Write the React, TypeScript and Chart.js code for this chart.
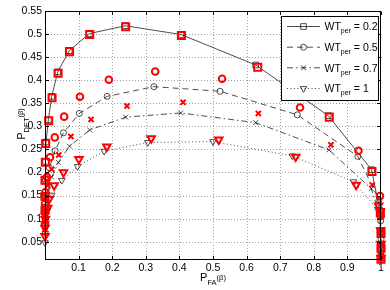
import React, { useEffect, useRef } from "react";
import { Chart, registerables } from "chart.js";

Chart.register(...registerables);

const FONT = '"Liberation Sans", Arial, Helvetica, sans-serif';
const RED = "rgb(255,0,0)";

// Axis ticks
const X_TICKS = [0, 0.1, 0.2, 0.3, 0.4, 0.5, 0.6, 0.7, 0.8, 0.9, 1];
const Y_TICKS = [0.05, 0.1, 0.15, 0.2, 0.25, 0.3, 0.35, 0.4, 0.45, 0.5, 0.55];
const WT_LABELS = ["0.2", "0.5", "0.7", "1"];

// WT_per = 0.2 (black line + squares, red squares)
const wt02X = [0.000, 0.001, 0.001, 0.002, 0.003, 0.010, 0.020, 0.038, 0.072, 0.132, 0.239, 0.405, 0.627, 0.843, 0.972, 0.996, 0.999, 1.000, 1.000];
const wt02Y = [0.120, 0.150, 0.186, 0.224, 0.266, 0.314, 0.365, 0.418, 0.464, 0.501, 0.518, 0.499, 0.433, 0.323, 0.206, 0.118, 0.072, 0.040, 0.015];
const wt02RedX = [0.000, 0.000, 0.000, 0.001, 0.002, 0.011, 0.021, 0.039, 0.073, 0.133, 0.240, 0.406, 0.633, 0.846, 0.973, 0.998, 1.000, 1.000, 1.000];
const wt02RedY = [0.118, 0.148, 0.183, 0.222, 0.263, 0.312, 0.362, 0.415, 0.462, 0.499, 0.516, 0.497, 0.428, 0.320, 0.202, 0.113, 0.068, 0.036, 0.012];

// WT_per = 0.5 (black dashed + circles, red circles)
const wt05X = [0.000, 0.000, 0.001, 0.002, 0.005, 0.013, 0.030, 0.055, 0.102, 0.185, 0.324, 0.521, 0.751, 0.931, 0.994, 0.999, 1.000, 1.000];
const wt05Y = [0.085, 0.105, 0.125, 0.150, 0.178, 0.210, 0.247, 0.286, 0.328, 0.365, 0.386, 0.376, 0.325, 0.235, 0.140, 0.095, 0.055, 0.025];
const wt05RedX = [0.000, 0.000, 0.000, 0.001, 0.006, 0.015, 0.029, 0.057, 0.104, 0.190, 0.328, 0.527, 0.759, 0.933, 0.997, 0.999, 1.000, 1.000];
const wt05RedY = [0.090, 0.113, 0.132, 0.157, 0.190, 0.233, 0.276, 0.321, 0.364, 0.401, 0.419, 0.403, 0.341, 0.247, 0.149, 0.106, 0.070, 0.035];

// WT_per = 0.7 (black dash-dot + x, red x)
const wt07X = [0.000, 0.001, 0.002, 0.004, 0.009, 0.020, 0.040, 0.073, 0.133, 0.240, 0.404, 0.627, 0.845, 0.971, 0.997, 0.999, 1.000, 1.000];
const wt07Y = [0.075, 0.095, 0.115, 0.135, 0.160, 0.190, 0.222, 0.257, 0.292, 0.320, 0.329, 0.308, 0.249, 0.165, 0.105, 0.070, 0.040, 0.018];
const wt07RedX = [0.000, 0.000, 0.001, 0.003, 0.008, 0.020, 0.041, 0.077, 0.137, 0.244, 0.411, 0.635, 0.851, 0.974, 0.998, 0.999, 1.000, 1.000];
const wt07RedY = [0.080, 0.100, 0.120, 0.142, 0.172, 0.207, 0.238, 0.278, 0.315, 0.344, 0.352, 0.328, 0.260, 0.173, 0.110, 0.075, 0.045, 0.020];

// WT_per = 1 (black dotted + triangles, red triangles)
const wt1X = [0.000, 0.001, 0.003, 0.008, 0.020, 0.050, 0.097, 0.176, 0.306, 0.500, 0.736, 0.918, 0.990, 0.998, 1.000, 1.000];
const wt1Y = [0.048, 0.068, 0.090, 0.118, 0.151, 0.183, 0.213, 0.246, 0.265, 0.267, 0.236, 0.180, 0.120, 0.075, 0.040, 0.012];
const wt1RedX = [0.000, 0.000, 0.001, 0.008, 0.013, 0.027, 0.055, 0.101, 0.184, 0.316, 0.517, 0.746, 0.926, 0.993, 0.998, 0.999, 1.000, 1.000];
const wt1RedY = [0.062, 0.080, 0.099, 0.123, 0.143, 0.172, 0.200, 0.229, 0.256, 0.274, 0.271, 0.234, 0.173, 0.128, 0.115, 0.075, 0.045, 0.015];

const toPts = (xs: number[], ys: number[]) => xs.map((x, i) => ({ x, y: ys[i] }));
const fmt = (v: number) => String(Math.round(v * 100) / 100);

const STYLES = [
  { ps: "rect", rot: 0, rB: 4, rR: 5, dash: [] as number[] },
  { ps: "circle", rot: 0, rB: 3, rR: 3.3, dash: [6, 4] },
  { ps: "crossRot", rot: 0, rB: 3.4, rR: 3.6, dash: [6, 3, 1.5, 3] },
  { ps: "triangle", rot: 180, rB: 3.8, rR: 4.3, dash: [1, 2.5] },
];

const SERIES = [
  { bx: wt02X, by: wt02Y, rx: wt02RedX, ry: wt02RedY },
  { bx: wt05X, by: wt05Y, rx: wt05RedX, ry: wt05RedY },
  { bx: wt07X, by: wt07Y, rx: wt07RedX, ry: wt07RedY },
  { bx: wt1X, by: wt1Y, rx: wt1RedX, ry: wt1RedY },
];

function drawMarker(ctx: CanvasRenderingContext2D, kind: string, x: number, y: number, r: number) {
  ctx.beginPath();
  if (kind === "rect") {
    const s = Math.SQRT1_2 * r;
    ctx.rect(x - s, y - s, 2 * s, 2 * s);
  } else if (kind === "circle") {
    ctx.arc(x, y, r, 0, Math.PI * 2);
  } else if (kind === "crossRot") {
    const s = Math.SQRT1_2 * r;
    ctx.moveTo(x - s, y - s); ctx.lineTo(x + s, y + s);
    ctx.moveTo(x - s, y + s); ctx.lineTo(x + s, y - s);
  } else {
    const dx = r * Math.sin(Math.PI / 3);
    ctx.moveTo(x, y + r);
    ctx.lineTo(x - dx, y - r / 2);
    ctx.lineTo(x + dx, y - r / 2);
    ctx.closePath();
  }
  ctx.stroke();
}

type Part = { t: string; size: number; dy: number };
function drawRich(ctx: CanvasRenderingContext2D, parts: Part[], cx: number, baseY: number, align: "center" | "left") {
  let total = 0;
  const widths = parts.map((p) => {
    ctx.font = `${p.size}px ${FONT}`;
    const w = ctx.measureText(p.t).width;
    total += w;
    return w;
  });
  let x = align === "center" ? cx - total / 2 : cx;
  ctx.textAlign = "left";
  ctx.textBaseline = "alphabetic";
  parts.forEach((p, i) => {
    ctx.font = `${p.size}px ${FONT}`;
    ctx.fillText(p.t, x, baseY + p.dy);
    x += widths[i];
  });
}

const matlabPlugin = {
  id: "matlabStyle",
  beforeDatasetsDraw(chart: any) {
    const { ctx, chartArea: a, scales } = chart;
    const xs = scales.x, ys = scales.y;
    ctx.save();
    ctx.strokeStyle = "#a0a0a0";
    ctx.lineWidth = 1;
    ctx.setLineDash([1, 2]);
    X_TICKS.forEach((v) => {
      const px = Math.round(xs.getPixelForValue(v)) + 0.5;
      if (px <= a.left + 1 || px >= a.right - 1) return;
      ctx.beginPath(); ctx.moveTo(px, a.top); ctx.lineTo(px, a.bottom); ctx.stroke();
    });
    Y_TICKS.forEach((v) => {
      const py = Math.round(ys.getPixelForValue(v)) + 0.5;
      if (py <= a.top + 1 || py >= a.bottom - 1) return;
      ctx.beginPath(); ctx.moveTo(a.left, py); ctx.lineTo(a.right, py); ctx.stroke();
    });
    ctx.restore();
  },
  afterDatasetsDraw(chart: any) {
    const { ctx, chartArea: a, scales } = chart;
    const xs = scales.x, ys = scales.y;
    ctx.save();
    ctx.setLineDash([]);
    ctx.strokeStyle = "#000";
    ctx.lineWidth = 1;
    const L = Math.round(a.left) + 0.5, R = Math.round(a.right) - 0.5;
    const T = Math.round(a.top) + 0.5, B = Math.round(a.bottom) - 0.5;
    ctx.strokeRect(L, T, R - L, B - T);
    const tl = 3.5;
    X_TICKS.forEach((v) => {
      const px = Math.round(xs.getPixelForValue(v)) + 0.5;
      ctx.beginPath();
      ctx.moveTo(px, B); ctx.lineTo(px, B - tl);
      ctx.moveTo(px, T); ctx.lineTo(px, T + tl);
      ctx.stroke();
    });
    Y_TICKS.forEach((v) => {
      const py = Math.round(ys.getPixelForValue(v)) + 0.5;
      ctx.beginPath();
      ctx.moveTo(L, py); ctx.lineTo(L + tl, py);
      ctx.moveTo(R, py); ctx.lineTo(R - tl, py);
      ctx.stroke();
    });

    // Legend
    const lx = 281.5, lt = 16.5, lr = R - 2, lb = 100.5;
    ctx.fillStyle = "#fff";
    ctx.fillRect(lx, lt, lr - lx, lb - lt);
    ctx.lineWidth = 1;
    ctx.strokeRect(lx, lt, lr - lx, lb - lt);
    const rows = [26.5, 47.2, 67.8, 88.5];
    rows.forEach((cy, i) => {
      const st = STYLES[i];
      ctx.strokeStyle = "#000";
      ctx.lineWidth = 0.7;
      ctx.setLineDash(st.dash);
      ctx.beginPath(); ctx.moveTo(287, cy); ctx.lineTo(320, cy); ctx.stroke();
      ctx.setLineDash([]);
      drawMarker(ctx, st.ps, 303.5, cy, st.rB);
      ctx.fillStyle = "#000";
      drawRich(ctx, [
        { t: "WT", size: 10.5, dy: 0 },
        { t: "per", size: 7, dy: 3 },
        { t: " = " + WT_LABELS[i], size: 10.5, dy: 0 },
      ], 324.5, cy + 3.8, "left");
    });
    ctx.restore();
  },
  afterDraw(chart: any) {
    const { ctx, chartArea: a } = chart;
    ctx.save();
    ctx.fillStyle = "#000";
    const cx = (a.left + a.right) / 2;
    drawRich(ctx, [
      { t: "P", size: 11, dy: 0 },
      { t: "FA", size: 7.5, dy: 4 },
      { t: "(β)", size: 7.5, dy: -1 },
    ], cx, 281, "center");
    ctx.translate(24.5, 124);
    ctx.rotate(-Math.PI / 2);
    drawRich(ctx, [
      { t: "P", size: 11, dy: 0 },
      { t: "DET", size: 7.5, dy: 4 },
      { t: "(β)", size: 7.5, dy: -1.5 },
    ], 0, 0, "center");
    ctx.restore();
  },
};

export default function App() {
  const ref = useRef<HTMLCanvasElement | null>(null);
  useEffect(() => {
    if (!ref.current) return;
    const datasets: any[] = [];
    SERIES.forEach((s, i) => {
      const st = STYLES[i];
      datasets.push({
        label: "WT_per = " + WT_LABELS[i],
        data: toPts(s.bx, s.by),
        showLine: true,
        borderColor: "#000",
        borderWidth: 0.7,
        borderDash: st.dash,
        backgroundColor: "rgba(0,0,0,0)",
        pointStyle: st.ps,
        pointRotation: st.rot,
        pointRadius: st.rB,
        pointBorderColor: "#000",
        pointBorderWidth: 0.7,
        pointBackgroundColor: "rgba(0,0,0,0)",
        fill: false,
        tension: 0,
        clip: false,
        order: 2,
      });
    });
    SERIES.forEach((s, i) => {
      const st = STYLES[i];
      datasets.push({
        label: "sim " + WT_LABELS[i],
        data: toPts(s.rx, s.ry),
        showLine: false,
        pointStyle: st.ps,
        pointRotation: st.rot,
        pointRadius: st.rR,
        pointBorderColor: RED,
        pointBorderWidth: 2,
        pointBackgroundColor: "rgba(0,0,0,0)",
        clip: false,
        order: 1,
      });
    });
    const chart = new Chart(ref.current, {
      type: "scatter",
      data: { datasets },
      options: {
        animation: false,
        responsive: false,
        devicePixelRatio: 1,
        events: [],
        layout: { padding: { top: 11, right: 9, left: 0, bottom: 0 } },
        plugins: { legend: { display: false }, tooltip: { enabled: false } },
        elements: { point: { hoverRadius: 0 } },
        scales: {
          x: {
            type: "linear",
            min: 0,
            max: 1,
            afterBuildTicks: (s: any) => { s.ticks = X_TICKS.map((v) => ({ value: v })); },
            afterFit: (s: any) => { s.height = 30; },
            grid: { display: false, drawTicks: false },
            border: { display: false },
            ticks: {
              padding: 2,
              autoSkip: false,
              maxRotation: 0,
              color: "#000",
              font: { family: FONT, size: 10.5 },
              callback: (v: any) => (Number(v) === 0 ? "" : fmt(Number(v))),
            },
          },
          y: {
            type: "linear",
            min: 0.0103,
            max: 0.55,
            afterBuildTicks: (s: any) => { s.ticks = Y_TICKS.map((v) => ({ value: v })); },
            afterFit: (s: any) => { s.width = 45; },
            grid: { display: false, drawTicks: false },
            border: { display: false },
            ticks: {
              padding: 3,
              autoSkip: false,
              color: "#000",
              font: { family: FONT, size: 10.5 },
              callback: (v: any) => fmt(Number(v)),
            },
          },
        },
      } as any,
      plugins: [matlabPlugin as any],
    });
    return () => chart.destroy();
  }, []);
  return (
    <div style={{ position: "absolute", left: 0, top: 0, width: 390, height: 290, background: "#fff" }}>
      <canvas ref={ref} width={390} height={290} style={{ display: "block", width: 390, height: 290 }} />
    </div>
  );
}
